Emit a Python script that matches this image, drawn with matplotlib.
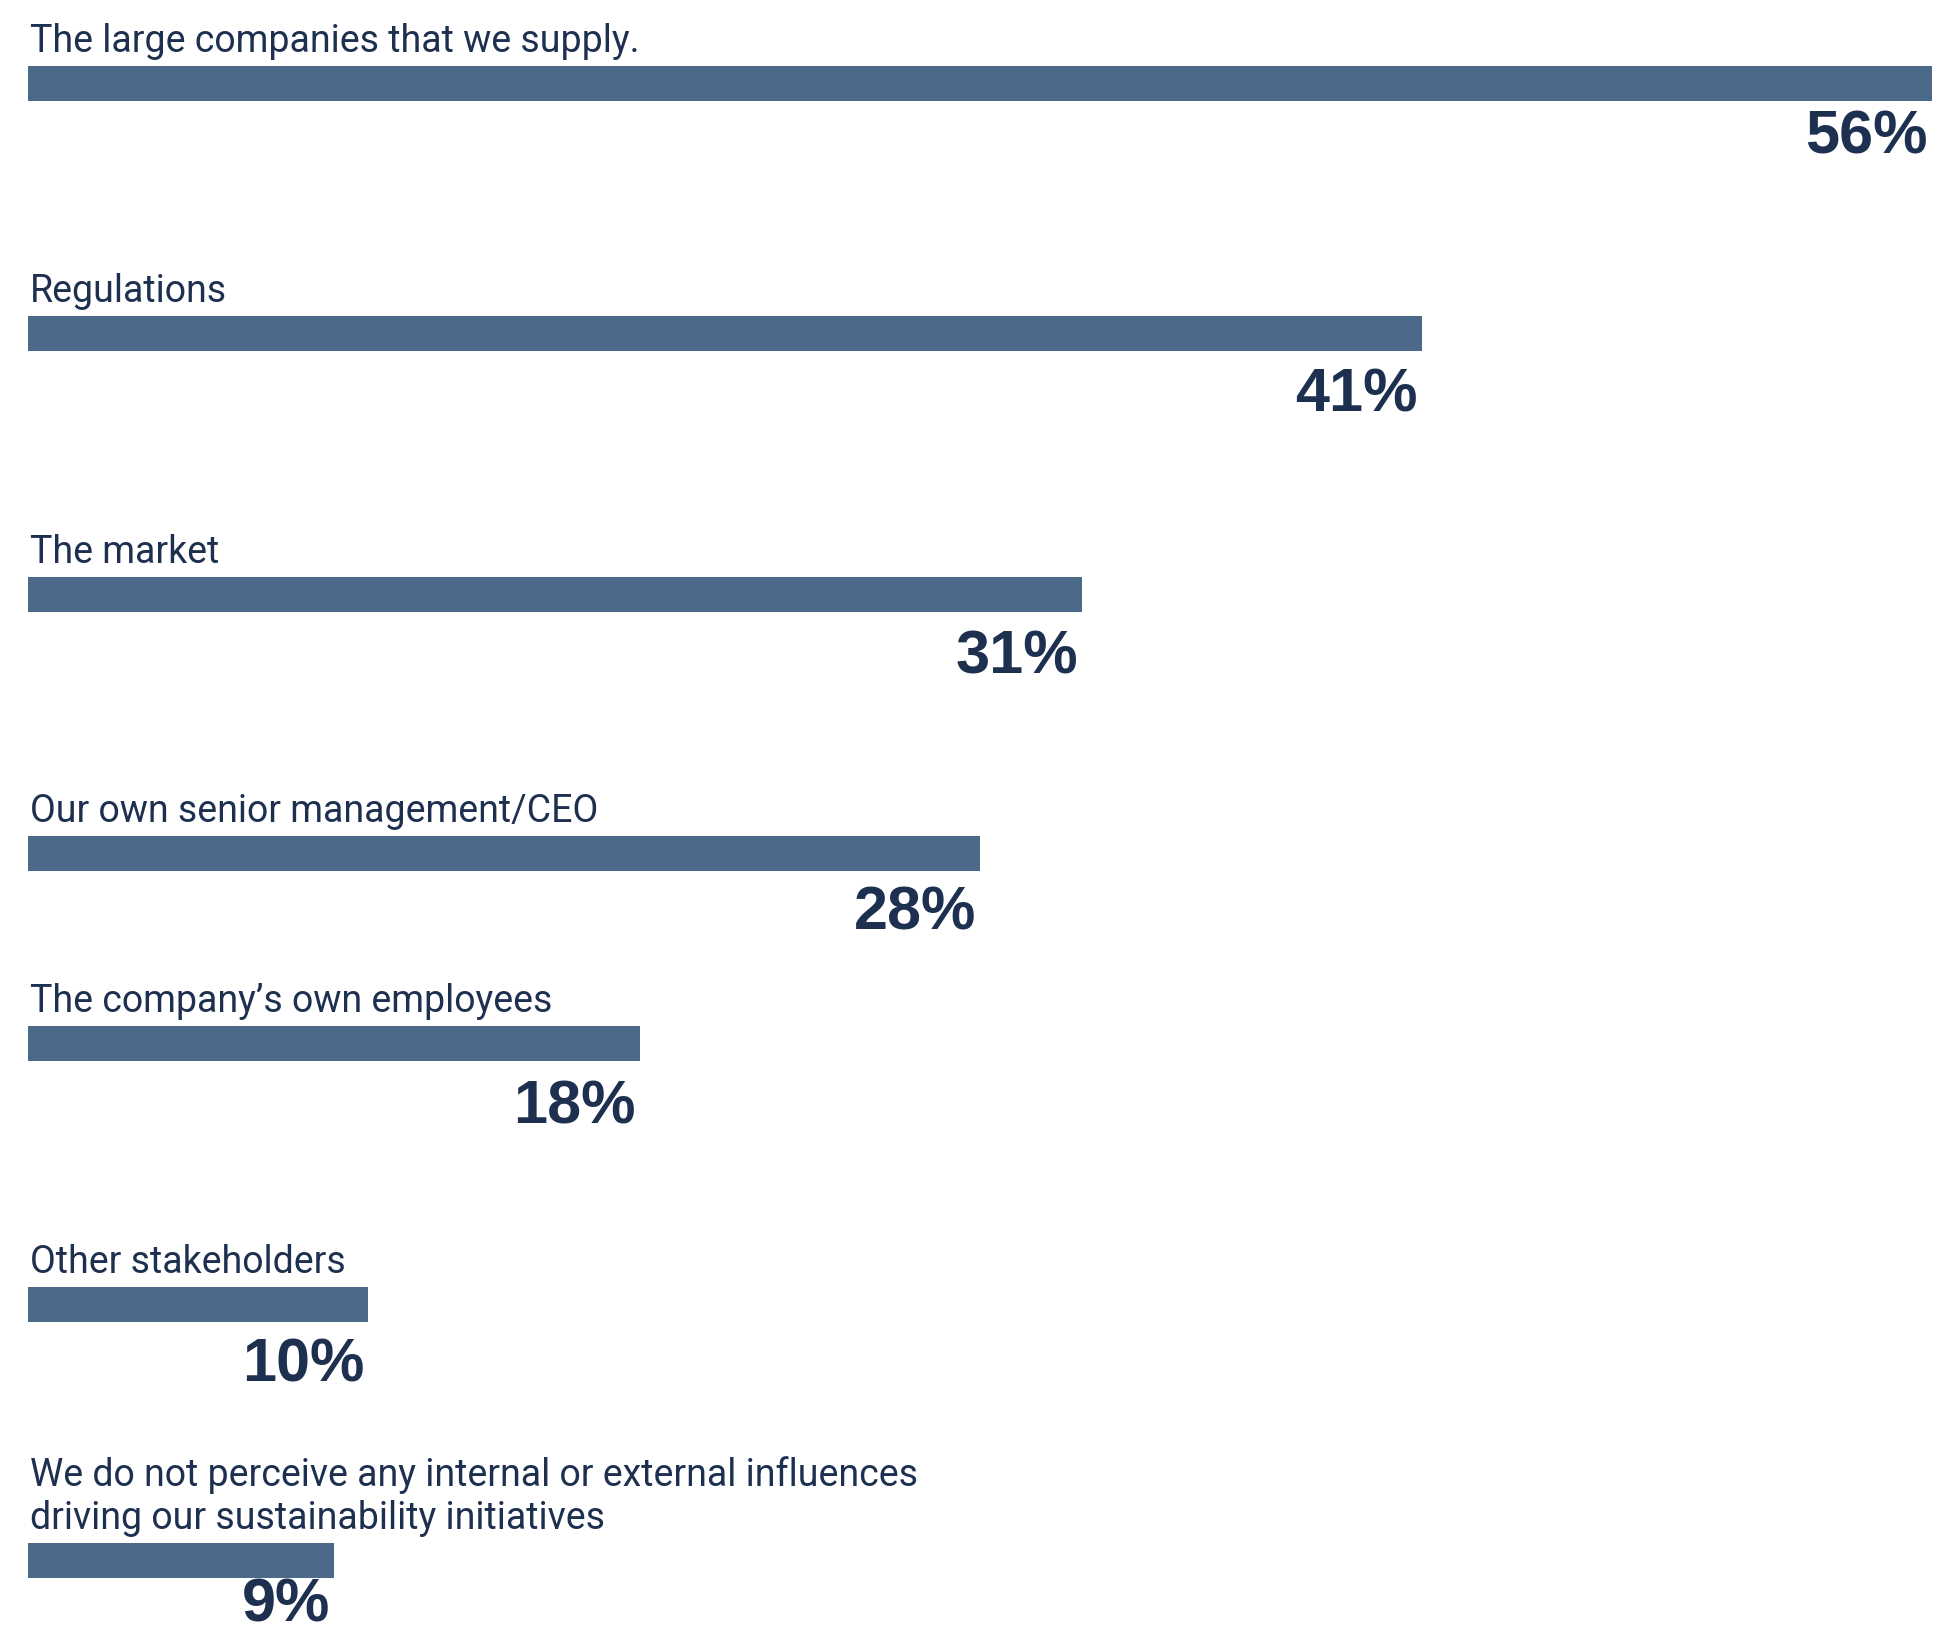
import matplotlib.pyplot as plt

categories = [
    "The large companies that we supply.",
    "Regulations",
    "The market",
    "Our own senior management/CEO",
    "The company\u2019s own employees",
    "Other stakeholders",
    "We do not perceive any internal or external influences\ndriving our sustainability initiatives",
]
values = [56, 41, 31, 28, 18, 10, 9]

# layout, in pixels from the top of the canvas
bar_tops = [66, 316, 577, 836, 1026, 1287, 1543]
value_gaps = [9, 17, 17, 15, 19, 15, 0]
BAR_H = 35

BAR_COLOR = "#4B6A89"
TEXT_COLOR = "#1E3050"

W, H = 1946, 1636
fig = plt.figure(figsize=(W / 100, H / 100), dpi=100)
ax = fig.add_axes([0, 0, 1, 1])

px_per_pct = (1932 - 28) / max(values)
ax.set_xlim(-28 / px_per_pct, max(values) + (W - 1932) / px_per_pct)
ax.set_ylim(H, 0)
ax.axis("off")

centers = [t + BAR_H / 2 for t in bar_tops]
ax.barh(centers, values, height=BAR_H, color=BAR_COLOR, left=0)

for cat, val, top, gap in zip(categories, values, bar_tops, value_gaps):
    ax.annotate(cat, (0, top), xytext=(2, 14), textcoords="offset pixels",
                ha="left", va="baseline", fontsize=27, color=TEXT_COLOR,
                family=["Liberation Sans Narrow", "Roboto", "DejaVu Sans"],
                linespacing=1.2)
    ax.annotate(f"{val}%", (val, top + BAR_H), xytext=(-4, -(gap + 44)),
                textcoords="offset pixels", ha="right", va="baseline",
                fontsize=44, fontweight="bold", color=TEXT_COLOR,
                family=["Liberation Sans", "DejaVu Sans"])

fig.savefig("out.png", dpi=100, facecolor="white")
